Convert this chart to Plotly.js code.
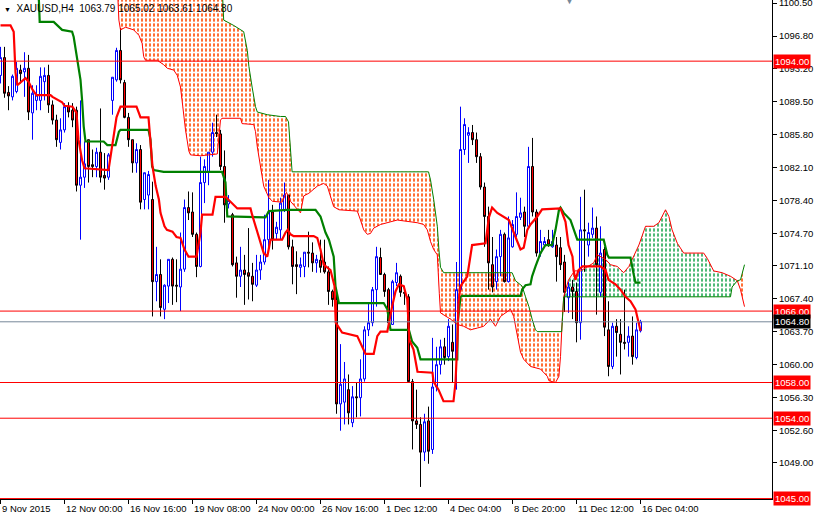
<!DOCTYPE html>
<html><head><meta charset="utf-8">
<script src="https://cdn.plot.ly/plotly-3.0.1.min.js"></script>
<style>html,body{margin:0;padding:0;background:#fff;overflow:hidden}#chart{width:814px;height:516px}</style>
</head><body><div id="chart"></div>
<script>
// ---------- data ----------
const symbolTitle = "XAUUSD,H4";
const lastQuote = ["1063.79", "1065.02", "1063.61", "1064.80"];
const tickIdx = [0, 16, 32, 48, 64, 80, 96, 112, 128, 144, 160];
const tickLabels = ["9 Nov 2015", "12 Nov 00:00", "16 Nov 16:00", "19 Nov 08:00", "24 Nov 00:00", "26 Nov 16:00", "1 Dec 12:00", "4 Dec 04:00", "8 Dec 20:00", "11 Dec 12:00", "16 Dec 04:00"];
const priceTicks = [1100.50, 1096.80, 1093.20, 1089.50, 1085.80, 1082.10, 1078.40, 1074.70, 1071.10, 1067.40, 1063.70, 1060.00, 1056.30, 1052.60, 1049.00];
const levelLines = [1094.00, 1066.00, 1058.00, 1054.00, 1045.00];
const bidLine = 1064.80;
const shiftMarkerBar = 142.25;

const opens = [
1092.4,1094.4,1090.5,1090.0,1090.6,1093.0,1092.8,1093.2,1088.2,1089.6,
1089.6,1091.7,1092.4,1089.1,1087.4,1084.9,1086.3,1088.9,1088.5,1088.5,
1080.1,1081.0,1085.2,1082.4,1082.2,1083.8,1081.2,1081.0,1089.6,1091.9,
1095.2,1091.6,1087.7,1085.2,1082.6,1084.1,1078.5,1079.0,1078.5,1069.3,
1070.1,1066.2,1068.8,1071.8,1068.9,1068.7,1070.7,1077.6,1077.1,1074.6,
1071.0,1080.4,1081.6,1083.8,1086.0,1085.85,1082.2,1078.0,1076.8,1071.4,
1069.9,1070.6,1070.3,1069.9,1068.9,1070.6,1071.5,1074.0,1077.1,1074.7,
1075.1,1077.3,1079.0,1073.2,1071.2,1070.9,1071.0,1072.6,1072.5,1071.4,
1071.7,1071.5,1070.4,1068.2,1067.3,1055.6,1055.8,1057.2,1053.5,1056.4,
1056.3,1058.4,1063.9,1064.7,1068.4,1072.0,1070.1,1068.4,1064.5,1069.2,
1069.9,1068.1,1067.6,1058.1,1053.7,1053.3,1050.2,1053.7,1050.5,1057.5,
1060.0,1062.0,1060.9,1062.5,1060.6,1068.4,1084.1,1085.7,1086.0,1085.2,
1083.3,1079.9,1076.6,1071.2,1069.3,1072.1,1074.6,1069.3,1073.2,1074.6,
1076.5,1077.1,1075.5,1082.2,1077.1,1072.5,1073.4,1074.0,1073.2,1073.4,
1073.1,1071.5,1067.5,1068.7,1068.2,1064.7,1075.1,1073.4,1074.6,1075.3,
1068.1,1072.9,1063.9,1059.8,1064.3,1063.4,1062.5,1062.5,1063.2,1060.8,
1063.79];
const highs = [
1095.6,1095.6,1091.2,1092.5,1093.9,1093.6,1095.0,1094.7,1091.3,1091.3,
1093.3,1093.3,1093.6,1089.6,1088.0,1087.6,1089.3,1089.4,1089.3,1088.9,
1089.6,1085.0,1085.2,1084.1,1084.3,1088.7,1083.7,1083.7,1092.2,1095.5,
1097.7,1091.9,1088.2,1085.2,1084.8,1084.6,1081.5,1081.7,1080.5,1073.2,
1071.8,1069.0,1071.8,1072.0,1071.8,1074.8,1078.5,1079.4,1079.3,1074.8,
1083.3,1083.0,1083.8,1087.1,1088.0,1086.3,1084.0,1079.0,1077.0,1072.1,
1073.2,1072.3,1075.3,1071.4,1072.3,1072.3,1076.8,1080.7,1077.9,1076.0,
1078.7,1080.4,1079.0,1074.0,1072.7,1072.0,1072.6,1074.9,1073.7,1072.3,
1074.0,1074.0,1071.0,1068.4,1068.3,1062.3,1060.3,1058.9,1057.6,1058.0,
1060.6,1064.3,1066.9,1068.7,1073.2,1073.1,1070.3,1068.6,1069.5,1071.4,
1070.1,1068.8,1067.9,1058.4,1057.2,1054.1,1054.5,1055.3,1063.0,1062.0,
1062.8,1063.0,1065.1,1064.5,1071.5,1088.9,1087.6,1086.6,1086.85,1086.0,
1083.7,1080.4,1077.7,1074.3,1072.9,1075.1,1074.8,1076.6,1076.2,1079.3,
1078.7,1077.7,1084.4,1085.4,1077.4,1075.1,1074.3,1075.1,1075.1,1074.3,
1074.3,1072.3,1069.3,1069.5,1069.2,1078.8,1079.6,1075.9,1077.6,1076.6,
1075.5,1073.2,1067.1,1064.7,1065.1,1065.1,1068.4,1064.3,1065.4,1064.7,
1065.02];
const lows = [
1091.5,1089.9,1088.5,1089.6,1090.4,1091.5,1090.0,1087.4,1085.2,1088.5,
1088.5,1089.6,1088.2,1086.9,1084.4,1084.1,1086.0,1087.7,1086.6,1079.4,
1074.0,1079.8,1080.4,1081.0,1081.0,1080.4,1079.6,1080.7,1088.0,1091.7,
1091.5,1087.6,1084.4,1081.5,1081.5,1077.4,1077.4,1077.4,1065.4,1067.1,
1065.4,1065.1,1066.9,1066.7,1067.0,1066.0,1070.4,1076.2,1074.3,1069.8,
1070.9,1078.1,1080.1,1083.3,1085.5,1081.8,1075.9,1077.5,1071.0,1067.5,
1068.7,1066.7,1067.3,1067.1,1068.7,1069.5,1071.2,1072.9,1072.9,1074.0,
1074.0,1077.1,1072.9,1069.0,1067.9,1069.8,1069.8,1070.9,1070.4,1070.3,
1070.3,1070.2,1066.7,1066.5,1054.5,1052.6,1053.3,1053.3,1053.0,1054.1,
1054.2,1058.1,1063.2,1064.3,1066.5,1070.1,1067.6,1064.5,1064.5,1068.8,
1067.6,1066.7,1058.0,1050.5,1052.8,1046.3,1049.2,1048.9,1050.0,1057.0,
1058.9,1060.0,1060.4,1058.0,1057.2,1068.2,1083.5,1082.6,1084.6,1082.6,
1079.6,1073.2,1068.4,1068.1,1068.4,1069.9,1069.2,1069.2,1073.1,1074.3,
1076.2,1074.3,1075.3,1076.6,1072.1,1072.1,1073.2,1073.2,1073.1,1069.3,
1070.6,1065.9,1065.8,1065.1,1062.5,1062.8,1070.4,1072.1,1074.2,1065.6,
1067.6,1063.2,1058.7,1059.5,1060.9,1058.9,1061.7,1060.9,1060.0,1060.6,
1063.61];
const closes = [
1094.4,1090.4,1090.1,1092.3,1093.2,1092.6,1093.2,1088.3,1090.4,1090.2,
1092.3,1092.4,1089.1,1087.4,1085.2,1086.3,1088.9,1088.3,1087.4,1080.1,
1081.0,1082.5,1082.2,1082.2,1083.8,1081.0,1080.9,1083.5,1092.2,1095.2,
1091.9,1087.7,1085.2,1082.6,1084.1,1078.2,1081.5,1081.3,1069.3,1070.1,
1066.4,1068.9,1071.8,1068.8,1068.8,1070.7,1077.6,1077.0,1074.6,1071.0,
1080.4,1082.2,1083.8,1086.0,1085.9,1082.2,1077.9,1078.4,1071.2,1069.9,
1070.6,1070.1,1069.9,1069.0,1070.6,1071.5,1074.0,1077.1,1074.0,1075.4,
1078.1,1079.0,1073.2,1071.0,1071.0,1071.2,1072.6,1072.5,1071.4,1071.8,
1070.9,1070.4,1068.2,1067.3,1055.6,1057.8,1058.4,1054.6,1056.4,1056.3,
1058.4,1063.9,1064.7,1068.4,1072.1,1070.1,1068.2,1064.7,1069.3,1070.3,
1068.1,1068.0,1058.1,1053.7,1053.3,1050.2,1053.6,1050.3,1057.5,1060.0,
1062.0,1060.8,1064.3,1061.5,1068.4,1084.1,1086.9,1086.0,1085.2,1083.3,
1079.9,1076.6,1071.4,1068.7,1072.1,1074.6,1069.3,1074.2,1075.7,1076.6,
1077.0,1075.5,1082.2,1077.1,1072.5,1073.8,1073.8,1073.4,1073.8,1072.1,
1071.2,1068.1,1068.7,1068.2,1064.7,1075.1,1075.0,1074.8,1075.3,1071.2,
1072.5,1064.2,1059.8,1064.3,1063.6,1062.5,1062.4,1063.2,1060.9,1063.9,
1064.80];

// Ichimoku lines, read as breakpoints (bar index, price)
const tenkanX = [0,2.5,3.3,3.75,4.2,6.25,7,8,9,12.5,13,15.4,16,18,19,19.5,20.4,21,27,28,29,30,34,35,37,38,38.8,39.6,40,41,41.6,43,44,45,46,47,49,50,50.4,53,53.75,56.25,57.1,59.2,62.5,62.9,65.8,66.7,67.5,70.4,71.25,71.8,72.5,73.3,78.3,79.2,80,80.8,82.5,83.5,83.8,85.4,89.2,91.25,93.3,94.2,95,96.7,97.9,98.75,99.6,100.8,101.7,102.2,103.25,104.25,108,108.25,109.5,110.75,113.25,113.75,114.25,114.5,115,116.7,117.9,121.25,122.1,122.9,124.2,127.1,128.75,130,130.8,131.7,132.5,134.2,135.4,140,141.25,142,143,143.25,143.75,144.5,145.5,150,151.25,152,153.75,155,156.25,157.5,158.75,159.5,160];
const tenkanY = [1098.0,1098.0,1097.3,1092.7,1091.3,1092.1,1091.7,1090.8,1090.2,1090.2,1090.0,1089.4,1089.0,1088.9,1088.2,1085.2,1082.9,1082.0,1081.8,1084.8,1087.7,1088.9,1088.9,1087.7,1087.7,1082.2,1080.0,1078.5,1077.0,1075.5,1075.1,1074.9,1074.3,1074.2,1072.9,1072.1,1072.1,1074.8,1076.8,1076.8,1078.8,1078.8,1078.4,1077.5,1077.5,1076.8,1072.5,1072.1,1074.0,1074.0,1074.8,1075.1,1074.6,1074.4,1074.4,1074.2,1072.9,1071.2,1070.6,1068.8,1064.7,1063.6,1063.2,1061.2,1061.2,1063.2,1063.7,1063.7,1066.5,1068.2,1069.0,1068.8,1067.3,1062.8,1061.7,1059.2,1059.1,1058.1,1057.2,1055.9,1055.9,1058.0,1063.0,1067.0,1068.8,1069.9,1073.4,1073.6,1076.5,1077.6,1077.0,1076.2,1074.3,1072.9,1073.1,1075.1,1075.7,1076.6,1077.4,1077.5,1076.0,1073.4,1072.1,1070.6,1069.5,1070.6,1071.0,1071.0,1070.6,1069.5,1069.0,1068.4,1067.6,1067.1,1066.2,1064.7,1063.8];

const kijunX = [9.4,9.6,9.8,13.3,15.4,17.9,18.3,19.2,20,20.4,20.8,21.25,25.8,26.7,28.75,29.6,30,37,37.5,37.9,38.3,40.8,55.4,56.25,56.7,66.25,67.1,71.7,78.75,80,81.25,82.1,83.3,83.75,84.6,95.8,96.7,97.5,102.1,102.9,104.2,105,114.2,114.3,115,115.4,130,130.4,131.25,132.5,132.9,133.75,135,136.25,137.9,138.75,139.6,140,140.8,142.5,143.75,144.2,150.8,151.7,152.1,157.5,158.3,158.75,160];
const kijunY = [1101.2,1100.8,1098.4,1098.4,1097.5,1097.3,1096.7,1094.1,1091.9,1089.6,1086.7,1085.0,1085.0,1084.6,1084.6,1086.1,1086.3,1086.3,1085.2,1082.2,1081.8,1081.6,1081.6,1080.4,1076.6,1076.5,1077.2,1077.35,1077.35,1076.6,1074.8,1074.0,1072.1,1068.8,1066.9,1066.9,1066.2,1063.9,1063.9,1062.6,1061.9,1060.6,1060.6,1064.7,1067.6,1067.7,1067.7,1068.4,1068.9,1069.0,1069.9,1071.0,1072.5,1073.4,1073.4,1075.1,1077.3,1077.6,1077.0,1076.2,1074.4,1074.0,1074.0,1072.3,1072.0,1072.0,1070.1,1069.2,1069.2];

const spanAX = [29.3,29.6,30,31.25,33.3,34.6,35.4,35.8,36.25,39.2,40.8,41.7,43.3,44.2,45,45.4,45.8,46.25,47.1,47.5,50,54.2,55,55.4,60,60.4,63.3,63.75,64.2,65,65.8,67.1,68,70.4,71.5,72.5,75,75.8,77.1,79.2,80.8,81.7,82.5,83.3,84.6,89.2,90,90.8,91.7,92.5,93.3,95,97.5,99.2,104.2,105.8,106.7,107.5,108.3,109.2,109.7,110,112.5,114.2,115.8,117.5,119.2,120.8,122.5,123.75,125,127.5,128.3,130,130.8,132.5,135,136.7,137.1,138.75,139.6,140,140.4,140.8,142,143.5,145,148.3,149.2,151.25,152.5,154.2,155.8,157.1,159.6,161.25,163.3,164.6,166.25,167.1,167.9,169.2,170.8,175.8,176.7,178.3,180.4,182.5,184.2,185,186];
const spanAY = [1101.5,1098.6,1097.5,1097.8,1097.5,1096.9,1096.0,1094.5,1094.1,1094.1,1093.6,1093.2,1093.0,1092.4,1091.1,1089.6,1088.5,1086.3,1083.9,1083.5,1083.4,1083.6,1087.4,1087.6,1087.6,1087.0,1086.9,1086.1,1084.4,1082.2,1080.0,1078.7,1078.3,1078.2,1079.3,1078.3,1077.0,1078.9,1079.2,1080.0,1080.3,1080.0,1078.9,1077.7,1077.35,1077.2,1076.2,1075.1,1074.6,1074.7,1075.3,1075.7,1076.0,1076.2,1075.9,1075.7,1075.1,1073.8,1072.9,1072.3,1068.0,1065.8,1065.1,1064.5,1064.3,1063.9,1064.1,1064.3,1065.1,1064.3,1065.4,1066.2,1065.4,1061.4,1060.6,1059.8,1059.5,1058.7,1058.2,1058.0,1058.7,1060.9,1064.7,1067.6,1069.5,1070.5,1070.5,1071.4,1072.3,1071.8,1071.2,1071.0,1070.3,1071.0,1073.4,1075.5,1075.5,1075.9,1077.35,1076.6,1075.1,1073.6,1072.5,1072.5,1071.9,1070.5,1070.3,1069.9,1069.4,1068.4,1066.5];

const spanBX = [55.5,55.8,58.3,60.8,61.7,62.1,62.9,63.75,64.2,66.7,70,71.25,72,72.5,72.9,107,107.5,108.3,109.2,109.6,110,110.8,127.9,128.75,130.4,131.25,132.1,132.9,133.75,134.2,140.3,140.8,182.5,182.9,184.2,185,186];
const spanBY = [1101.5,1098.6,1098.0,1097.3,1095.2,1093.4,1091.1,1088.9,1088.3,1088.0,1087.8,1087.8,1087.2,1084.5,1081.6,1081.6,1080.7,1078.5,1075.5,1072.9,1070.9,1070.3,1070.3,1069.4,1068.8,1067.6,1066.5,1065.1,1063.9,1063.7,1063.7,1067.6,1067.6,1068.7,1069.4,1069.5,1071.2];

// bars where span A and span B cross (kumo twists)
const kumoTwists = [140.8, 184.2];

// ---------- build traces ----------
const barIdx = opens.map((_, i) => i);
function pick(xs, ys, a, b) {
  const X = [], Y = [];
  for (let k = 0; k < xs.length; k++) {
    if (xs[k] >= a - 1e-9 && xs[k] <= b + 1e-9) { X.push(xs[k]); Y.push(ys[k]); }
  }
  return [X, Y];
}
function cloudPoly(upX, upY, loX, loY, a, b) {
  const [ux, uy] = pick(upX, upY, a, b);
  const [lx, ly] = pick(loX, loY, a, b);
  return { x: ux.concat(lx.slice().reverse()), y: uy.concat(ly.slice().reverse()) };
}
function cloudTraces(poly, color) {
  // vertical hatch columns, then white horizontal breaks -> dotted columns
  return [{
    type: 'scatter', mode: 'none', x: poly.x, y: poly.y, fill: 'toself',
    fillcolor: 'rgba(0,0,0,0)',
    fillpattern: { shape: '|', size: 4, solidity: 0.4, fgcolor: color, bgcolor: 'rgba(255,255,255,0)', fgopacity: 1 },
    hoverinfo: 'skip', xaxis: 'x', yaxis: 'y', showlegend: false
  }, {
    type: 'scatter', mode: 'none', x: poly.x, y: poly.y, fill: 'toself',
    fillcolor: 'rgba(0,0,0,0)',
    fillpattern: { shape: '-', size: 5, solidity: 0.35, fgcolor: '#ffffff', bgcolor: 'rgba(255,255,255,0)', fgopacity: 1 },
    hoverinfo: 'skip', xaxis: 'x', yaxis: 'y', showlegend: false
  }];
}
const orangeHatch = '#ff4a00', greenHatch = '#22a855';
const traces = [].concat(
  cloudTraces(cloudPoly(spanBX, spanBY, spanAX, spanAY, -1, kumoTwists[0]), orangeHatch),
  cloudTraces(cloudPoly(spanAX, spanAY, spanBX, spanBY, kumoTwists[0], kumoTwists[1]), greenHatch),
  cloudTraces(cloudPoly(spanBX, spanBY, spanAX, spanAY, kumoTwists[1], 999), orangeHatch),
  [
  {
    type: 'candlestick', x: barIdx, open: opens, high: highs, low: lows, close: closes,
    xaxis: 'x2', yaxis: 'y2', whiskerwidth: 0, hoverinfo: 'skip', showlegend: false,
    increasing: { line: { color: '#0000ff', width: 1 }, fillcolor: '#ffffff' },
    decreasing: { line: { color: '#000000', width: 1 }, fillcolor: '#ff0000' }
  },
  { type: 'scatter', mode: 'lines', x: spanAX, y: spanAY, line: { color: '#ff0000', width: 1 }, xaxis: 'x2', yaxis: 'y2', hoverinfo: 'skip' },
  { type: 'scatter', mode: 'lines', x: spanBX, y: spanBY, line: { color: '#008000', width: 1 }, xaxis: 'x2', yaxis: 'y2', hoverinfo: 'skip' },
  { type: 'scatter', mode: 'lines', x: kijunX, y: kijunY, line: { color: '#008000', width: 2.2 }, xaxis: 'x2', yaxis: 'y2', hoverinfo: 'skip' },
  { type: 'scatter', mode: 'lines', x: tenkanX, y: tenkanY, line: { color: '#ff0000', width: 2.2 }, xaxis: 'x2', yaxis: 'y2', hoverinfo: 'skip' }
  ]
);

const xRange = [-0.125, 192.875];
const yRange = [1044.95, 1100.85];
const FONT = '"Liberation Sans", Arial, sans-serif';

const shapes = levelLines.map(v => ({
  type: 'line', xref: 'paper', x0: 0, x1: 1, yref: 'y', y0: v, y1: v,
  line: { color: '#ff0000', width: 1 }, layer: 'above'
}));
shapes.push({ type: 'line', xref: 'paper', x0: 0, x1: 1, yref: 'y', y0: bidLine, y1: bidLine,
  line: { color: '#778899', width: 1 }, layer: 'above' });

const annotations = [];
levelLines.forEach(v => annotations.push({
  xref: 'paper', x: 1, xanchor: 'left', xshift: 1, yref: 'y', y: v, yanchor: 'middle',
  text: v.toFixed(2), showarrow: false, bgcolor: '#ff0000', borderpad: 1,
  font: { family: FONT, size: 9.5, color: '#ffffff' }
}));
annotations.push({
  xref: 'paper', x: 1, xanchor: 'left', xshift: 1, yref: 'y', y: bidLine, yanchor: 'middle',
  text: bidLine.toFixed(2), showarrow: false, bgcolor: '#000000', borderpad: 1,
  font: { family: FONT, size: 9.5, color: '#ffffff' }
});
tickIdx.forEach((t, k) => annotations.push({
  xref: 'x', x: t, xanchor: 'left', xshift: -1, yref: 'paper', y: 0, yanchor: 'top', yshift: -2,
  text: tickLabels[k], showarrow: false, font: { family: FONT, size: 9.5, color: '#000' }
}));
annotations.push({
  xref: 'paper', x: 0, xanchor: 'left', xshift: 2, yref: 'paper', y: 1, yanchor: 'top', yshift: -1,
  text: '<span style="font-size:7px">▼</span>  ' + symbolTitle + '  ' + lastQuote.join(' '),
  showarrow: false, font: { family: FONT, size: 10, color: '#000' }
});
annotations.push({
  xref: 'x', x: shiftMarkerBar, xanchor: 'center', yref: 'paper', y: 1, yanchor: 'middle',
  text: '▼', showarrow: false, font: { family: FONT, size: 11, color: '#778899' }
});

const layout = {
  width: 814, height: 516,
  margin: { l: 0, r: 42, t: 0, b: 17, pad: 0 },
  paper_bgcolor: '#ffffff', plot_bgcolor: '#ffffff',
  showlegend: false, hovermode: false,
  boxgap: 0.5, boxgroupgap: 0,
  font: { family: FONT, size: 9.5, color: '#000' },
  xaxis: {
    range: xRange, showgrid: false, zeroline: false, showline: true, linecolor: '#000', linewidth: 1,
    ticks: 'outside', ticklen: 4, tickcolor: '#000', tickwidth: 1, tickmode: 'array', tickvals: tickIdx,
    showticklabels: false, rangeslider: { visible: false }, fixedrange: true, automargin: false
  },
  yaxis: {
    range: yRange, side: 'right', showgrid: false, zeroline: false, showline: true, linecolor: '#000', linewidth: 1,
    ticks: 'outside', ticklen: 4, tickcolor: '#000', tickwidth: 1, tickmode: 'array',
    tickvals: priceTicks, ticktext: priceTicks.map(v => v.toFixed(2)), ticklabeloverflow: 'allow',
    tickfont: { family: FONT, size: 9.5, color: '#000' }, fixedrange: true, automargin: false
  },
  xaxis2: { overlaying: 'x', range: xRange, visible: false, rangeslider: { visible: false }, fixedrange: true },
  yaxis2: { overlaying: 'y', range: yRange, visible: false, fixedrange: true },
  shapes: shapes,
  annotations: annotations
};

Plotly.newPlot('chart', traces, layout, { displayModeBar: false, staticPlot: true });
</script>
</body></html>
